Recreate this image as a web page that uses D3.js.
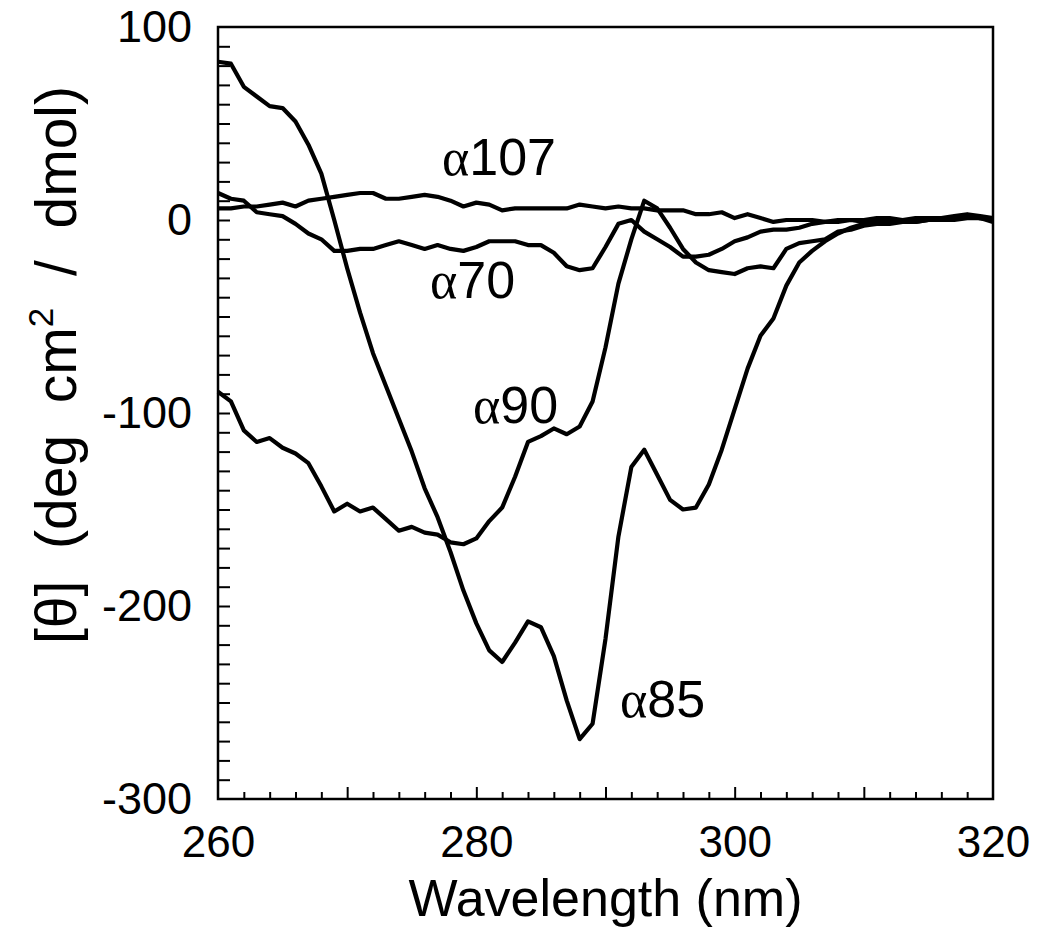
<!DOCTYPE html>
<style>
    body { margin: 0; background: #fff; }
    svg text { font-family: "Liberation Sans", Arial, Helvetica, sans-serif; fill: #000; }
    .domain { display: none; }
</style>
<svg width="1039" height="929"></svg>
<script src="https://d3js.org/d3.v7.min.js"></script>
<script>

    // wavelength (nm), 1 nm steps
    var wavelength = [260,261,262,263,264,265,266,267,268,269,
                      270,271,272,273,274,275,276,277,278,279,
                      280,281,282,283,284,285,286,287,288,289,
                      290,291,292,293,294,295,296,297,298,299,
                      300,301,302,303,304,305,306,307,308,309,
                      310,311,312,313,314,315,316,317,318,319,320];

    // mean residue ellipticity
    var alpha107 = [6,6,7,7,8,9,7,10,11,12,
                    13,14,14,11,11,12,13,12,10,7,
                    9,8,5,6,6,6,6,6,8,7,
                    6,7,6,6,5,5,5,3,3,4,
                    1,3,1,-1,0,0,0,-1,0,0,
                    0,1,1,0,1,1,1,2,3,2,1];
    var alpha70 = [14,11,10,4,3,2,-2,-7,-10,-16,
                   -16,-15,-15,-13,-11,-13,-15,-13,-15,-16,
                   -14,-11,-11,-11,-13,-13,-17,-24,-26,-25,
                   -14,-2,0,-6,-10,-14,-19,-19,-18,-15,
                   -11,-9,-6,-5,-5,-4,-2,-1,-1,0,
                   -1,-1,0,-1,0,0,0,1,2,1,1];
    var alpha90 = [-89,-94,-109,-115,-113,-118,-121,-126,-138,-151,
                   -147,-151,-149,-155,-161,-159,-162,-163,-167,-168,
                   -165,-156,-149,-133,-115,-112,-108,-111,-107,-94,
                   -66,-33,-10,10,6,-4,-15,-22,-26,-27,
                   -28,-25,-24,-25,-15,-12,-11,-10,-6,-5,
                   -3,-2,-2,-1,-1,0,0,0,1,1,0];
    var alpha85 = [82,81,69,64,59,58,51,39,24,0,
                   -25,-48,-69,-86,-103,-120,-139,-154,-172,-192,
                   -209,-223,-229,-219,-208,-211,-226,-249,-269,-261,
                   -217,-164,-128,-119,-132,-145,-150,-149,-137,-119,
                   -98,-77,-60,-51,-34,-22,-16,-11,-7,-4,
                   -2,-2,-1,-1,-1,0,0,1,2,1,-1];

    var xTickLabels = [260, 280, 300, 320];
    var yTickLabels = [100, 0, -100, -200, -300];

    var series = [
        {name: "107", values: alpha107, lx: 442, ly: 175},
        {name: "70",  values: alpha70,  lx: 430, ly: 298},
        {name: "90",  values: alpha90,  lx: 473, ly: 423},
        {name: "85",  values: alpha85,  lx: 620, ly: 717}
    ];

    var svg = d3.select("svg"),
        margin = {top: 27, right: 46, bottom: 130, left: 218},
        width = +svg.attr("width"),
        height = +svg.attr("height");

    var x = d3.scaleLinear()
        .domain([260, 320])
        .range([margin.left, width - margin.right]);

    var y = d3.scaleLinear()
        .domain([-300, 100])
        .range([height - margin.bottom, margin.top]);

    // minor/major ticks along the bottom, pointing inward
    svg.append("g")
        .attr("transform", "translate(0," + y(-300) + ")")
        .call(d3.axisTop(x)
            .tickValues(d3.range(262, 320, 2))
            .tickSize(7)
            .tickFormat(""))
        .call(function(g) {
            g.selectAll(".tick line")
                .attr("stroke-width", 2)
                .attr("y2", function(d) { return d % 10 === 0 ? -12 : -7; });
        });

    // ticks on the left, pointing inward
    svg.append("g")
        .attr("transform", "translate(" + x(260) + ",0)")
        .call(d3.axisRight(y)
            .tickValues(d3.range(-290, 100, 10))
            .tickSize(12)
            .tickFormat(""))
        .call(function(g) { g.selectAll(".tick line").attr("stroke-width", 2); });

    // tick labels
    svg.append("g")
        .attr("transform", "translate(0," + y(-300) + ")")
        .call(d3.axisBottom(x).tickValues(xTickLabels).tickSize(0).tickPadding(27))
        .call(function(g) { g.selectAll("text").attr("font-size", 44).attr("font-family", null); });

    svg.append("g")
        .attr("transform", "translate(" + x(260) + ",0)")
        .call(d3.axisLeft(y).tickValues(yTickLabels).tickSize(0).tickPadding(26)
            .tickFormat(function(d) { return d < 0 ? "-" + Math.abs(d) : d; }))
        .call(function(g) { g.selectAll("text").attr("font-size", 45).attr("font-family", null); });

    // frame
    svg.append("rect")
        .attr("x", x(260))
        .attr("y", y(100))
        .attr("width", x(320) - x(260))
        .attr("height", y(-300) - y(100))
        .attr("fill", "none")
        .attr("stroke", "#000")
        .attr("stroke-width", 2.5);

    var line = d3.line()
        .x(function(d, i) { return x(wavelength[i]); })
        .y(function(d) { return y(d); });

    svg.append("g")
        .selectAll("path")
        .data(series)
        .enter().append("path")
        .attr("fill", "none")
        .attr("stroke", "#000")
        .attr("stroke-width", 4.2)
        .attr("stroke-linejoin", "round")
        .attr("d", function(d) { return line(d.values); });

    var labels = svg.append("g")
        .selectAll("text")
        .data(series)
        .enter().append("text")
        .attr("x", function(d) { return d.lx; })
        .attr("y", function(d) { return d.ly; })
        .attr("font-size", 52);
    labels.append("tspan")
        .attr("font-family", "'Liberation Serif', 'Times New Roman', serif")
        .text("\u03b1");
    labels.append("tspan")
        .text(function(d) { return d.name; });

    // axis titles
    svg.append("text")
        .attr("x", (x(260) + x(320)) / 2)
        .attr("y", 916)
        .attr("text-anchor", "middle")
        .attr("font-size", 52)
        .text("Wavelength (nm)");

    var yt = svg.append("text")
        .attr("transform", "translate(76,365) rotate(-90)")
        .attr("text-anchor", "middle")
        .attr("font-size", 57)
        .style("white-space", "pre");
    yt.append("tspan").text("[\u03b8]  (deg  cm");
    yt.append("tspan").attr("font-size", 35).attr("dy", -23).text("2");
    yt.append("tspan").attr("dy", 23).text("  /  dmol)");

</script>
